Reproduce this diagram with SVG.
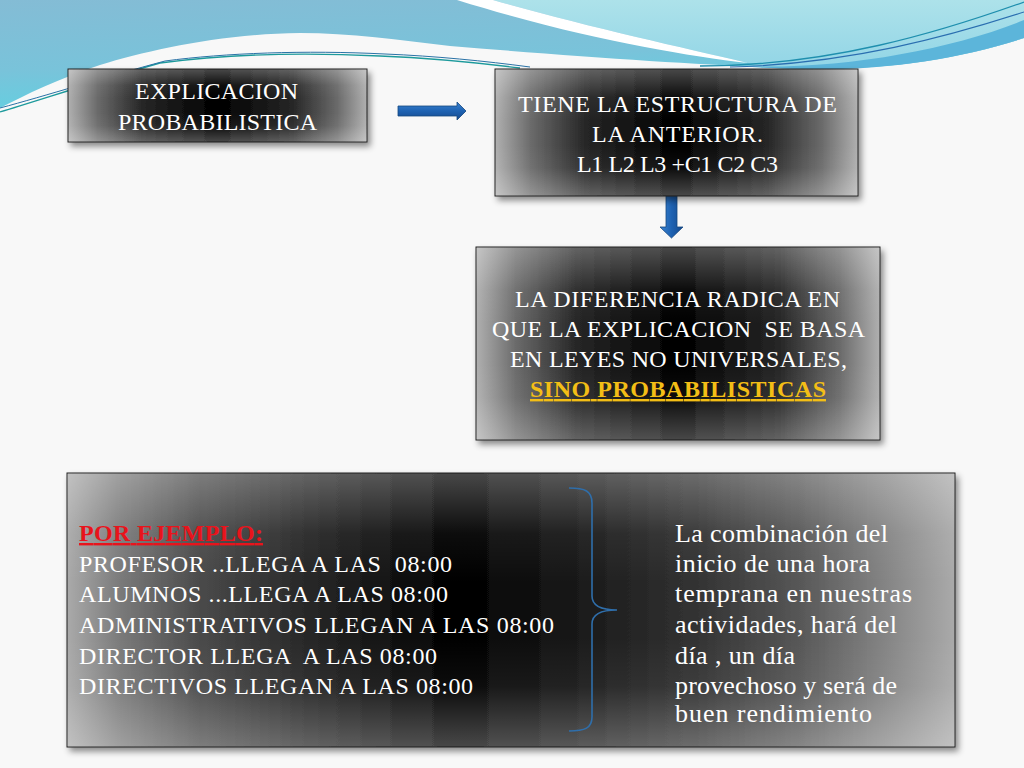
<svg xmlns="http://www.w3.org/2000/svg" width="1024" height="768" viewBox="0 0 1024 768">
<defs>
  <linearGradient id="gTopLeft" x1="0" y1="0" x2="0.3" y2="1">
    <stop offset="0" stop-color="#84bcd5"/>
    <stop offset="0.6" stop-color="#79c3da"/>
    <stop offset="1" stop-color="#62d0e1"/>
  </linearGradient>
  <linearGradient id="gTopRight" x1="0" y1="0" x2="0" y2="1">
    <stop offset="0" stop-color="#ade2ea"/>
    <stop offset="1" stop-color="#92d5e6"/>
  </linearGradient>
  <linearGradient id="gBoxH" x1="0" y1="0" x2="1" y2="0">
    <stop offset="0" stop-color="#b0b0b0"/>
    <stop offset="0.1" stop-color="#6a6a6a"/>
    <stop offset="0.25" stop-color="#262626"/>
    <stop offset="0.5" stop-color="#000000"/>
    <stop offset="0.75" stop-color="#262626"/>
    <stop offset="0.9" stop-color="#6a6a6a"/>
    <stop offset="1" stop-color="#b0b0b0"/>
  </linearGradient>
  <linearGradient id="gBox4H" x1="0" y1="0" x2="1" y2="0">
    <stop offset="0" stop-color="#aaaaaa"/>
    <stop offset="0.06" stop-color="#7a7a7a"/>
    <stop offset="0.15" stop-color="#4a4a4a"/>
    <stop offset="0.26" stop-color="#2a2a2a"/>
    <stop offset="0.44" stop-color="#000000"/>
    <stop offset="0.71" stop-color="#333333"/>
    <stop offset="0.82" stop-color="#555555"/>
    <stop offset="0.93" stop-color="#888888"/>
    <stop offset="1" stop-color="#aaaaaa"/>
  </linearGradient>
  <linearGradient id="gBoxV" x1="0" y1="0" x2="0" y2="1">
    <stop offset="0" stop-color="#ffffff" stop-opacity="0.28"/>
    <stop offset="0.22" stop-color="#ffffff" stop-opacity="0.05"/>
    <stop offset="0.4" stop-color="#ffffff" stop-opacity="0"/>
    <stop offset="0.6" stop-color="#ffffff" stop-opacity="0"/>
    <stop offset="0.78" stop-color="#ffffff" stop-opacity="0.05"/>
    <stop offset="1" stop-color="#ffffff" stop-opacity="0.28"/>
  </linearGradient>
  <linearGradient id="gArrowH" x1="0" y1="0" x2="0" y2="1">
    <stop offset="0" stop-color="#3a84d2"/>
    <stop offset="0.5" stop-color="#1e62b2"/>
    <stop offset="1" stop-color="#154a8e"/>
  </linearGradient>
  <linearGradient id="gArrowV" x1="0" y1="0" x2="1" y2="0">
    <stop offset="0" stop-color="#3a84d2"/>
    <stop offset="0.5" stop-color="#1e62b2"/>
    <stop offset="1" stop-color="#154a8e"/>
  </linearGradient>
  <filter id="shadow" x="-10%" y="-10%" width="125%" height="130%">
    <feDropShadow dx="3" dy="4" stdDeviation="3" flood-color="#000" flood-opacity="0.45"/>
  </filter>
</defs>
<style>
  .box { stroke: #1e1e1e; stroke-width: 1; filter: url(#shadow); }
  .shade { fill: url(#gBoxV); stroke: none; }
  .t { font-family: "Liberation Serif", "Times New Roman", serif; font-size: 24px; fill: #ffffff; }
  .tl { font-family: "Liberation Serif", "Times New Roman", serif; font-size: 26px; fill: #ffffff; }
  .gold { font-weight: bold; fill: #f3be16; text-decoration: underline; }
  .red { font-weight: bold; fill: #e8141c; text-decoration: underline; }
  .arrow { stroke: #15467f; stroke-width: 0.8; }
  .brace { fill: none; stroke: #2f6eaa; stroke-width: 1.6; }
</style>

<!-- background -->
<rect x="0" y="0" width="1024" height="768" fill="#f8f8f8"/>
<g id="header">
  <path d="M0,0 H1024 V38 C 950,62 860,74 760,67 C 690,64 570,56 450,46 C 400,40 350,33 300,33 C 220,34 150,50 100,65 C 60,78 25,95 0,108 Z" fill="url(#gTopLeft)"/>
  <path d="M493,0 H1024 V38 C 950,62 860,74 760,67 L748,63 C 680,47 580,25 493,0 Z" fill="url(#gTopRight)"/>
  <path d="M457,0 H493 C 580,25 680,47 748,63 C 680,55 580,38 457,0 Z" fill="#ffffff"/>
  <path d="M740,66 C 840,70 950,50 1024,20 L1024,38 C 950,62 860,76 740,66 Z" fill="#5cb5da"/>
  <path d="M700,66 C 830,66 940,32 1024,2" fill="none" stroke="#1f8fae" stroke-width="1.3"/>
  <path d="M730,67 C 850,64 950,36 1024,12" fill="none" stroke="#2a6eb0" stroke-width="1.1"/>
  <path d="M0,112 C 40,100 100,80 160,63 C 220,55 300,52 380,56 C 430,58 480,63 520,68" fill="none" stroke="#1d9a9c" stroke-width="1.3"/>
  <path d="M0,108 C 45,96 105,77 165,61 C 225,53 305,50 385,54 C 435,56 485,61 530,67" fill="none" stroke="#2a72a6" stroke-width="1"/>
</g>

<g id="connectors">
  <path class="arrow" d="M398,106 H457 V102 L466,111 L457,120 V116 H398 Z" fill="url(#gArrowH)"/>
  <path class="arrow" d="M666,196 H677 V227 H683 L671.5,238 L660,227 H666 Z" fill="url(#gArrowV)"/>
</g>

<g id="node-explicacion">
  <rect class="box" x="68" y="69" width="299" height="73" fill="url(#gBoxH)"/>
  <rect class="shade" x="68.5" y="69.5" width="298" height="72"/>
  <text class="t" x="135" y="99" textLength="163">EXPLICACION</text>
  <text class="t" x="118" y="130" textLength="199">PROBABILISTICA</text>
</g>

<g id="node-estructura">
  <rect class="box" x="495" y="69" width="363" height="127" fill="url(#gBoxH)"/>
  <rect class="shade" x="495.5" y="69.5" width="362" height="126"/>
  <text class="t" x="518" y="112" textLength="319">TIENE LA ESTRUCTURA DE</text>
  <text class="t" x="592" y="142" textLength="171">LA ANTERIOR.</text>
  <text class="t" x="577" y="172" textLength="201">L1 L2 L3 +C1 C2 C3</text>
</g>

<g id="node-diferencia">
  <rect class="box" x="476" y="247" width="404" height="193" fill="url(#gBoxH)"/>
  <rect class="shade" x="476.5" y="247.5" width="403" height="192"/>
  <text class="t" x="515" y="307" textLength="325">LA DIFERENCIA RADICA EN</text>
  <text class="t" x="492" y="337" textLength="373" xml:space="preserve">QUE LA EXPLICACION  SE BASA</text>
  <text class="t" x="510" y="367" textLength="337">EN LEYES NO UNIVERSALES,</text>
  <text class="t gold" x="530" y="397" textLength="296">SINO PROBABILISTICAS</text>
</g>

<g id="node-ejemplo">
  <rect class="box" x="67" y="473" width="888" height="274" fill="url(#gBox4H)"/>
  <rect class="shade" x="67.5" y="473.5" width="887" height="273"/>
  <text class="t red" x="79" y="541" textLength="184">POR EJEMPLO:</text>
  <text class="t" x="79" y="572" textLength="373" xml:space="preserve">PROFESOR ..LLEGA A LAS  08:00</text>
  <text class="t" x="79" y="602" textLength="369">ALUMNOS ...LLEGA A LAS 08:00</text>
  <text class="t" x="79" y="633" textLength="475">ADMINISTRATIVOS LLEGAN A LAS 08:00</text>
  <text class="t" x="79" y="664" textLength="358" xml:space="preserve">DIRECTOR LLEGA  A LAS 08:00</text>
  <text class="t" x="79" y="694" textLength="394">DIRECTIVOS LLEGAN A LAS 08:00</text>
  <path class="brace" d="M569,488 C 585,488 592,491 592,503 V596 C 592,605 600,610 617,610 C 600,610 592,615 592,624 V717 C 592,728 585,731 569,731"/>
  <text class="tl" x="675" y="542" textLength="213">La combinación del</text>
  <text class="tl" x="675" y="572" textLength="195">inicio de una hora</text>
  <text class="tl" x="675" y="602" textLength="237">temprana en nuestras</text>
  <text class="tl" x="675" y="633" textLength="222">actividades, hará del</text>
  <text class="tl" x="675" y="664" textLength="120">día , un día</text>
  <text class="tl" x="675" y="694" textLength="222">provechoso y será de</text>
  <text class="tl" x="675" y="722" textLength="197">buen rendimiento</text>
</g>
</svg>
